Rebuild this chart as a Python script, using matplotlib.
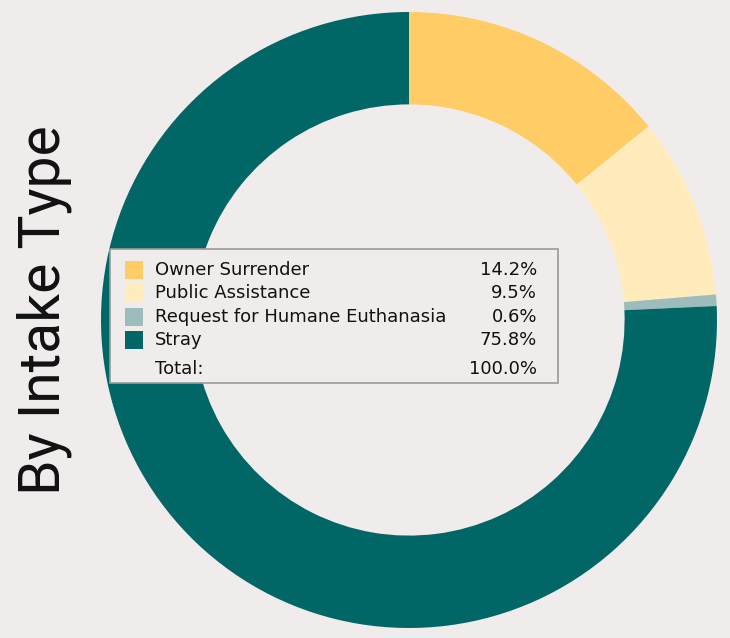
import matplotlib
matplotlib.use("Agg")
import matplotlib.pyplot as plt
from matplotlib.patches import Rectangle

categories = ["Owner Surrender", "Public Assistance",
              "Request for Humane Euthanasia", "Stray"]
percents = [14.2, 9.5, 0.6, 75.8]
total_label = "Total:"
total_pct = 100.0
colors = ["#FFCC66", "#FFEBBB", "#9DBDBD", "#006666"]
title = "By Intake Type"
bg = "#F0ECEC"

W, H = 730, 638
fig = plt.figure(figsize=(W / 100, H / 100), dpi=100, facecolor=bg)

# donut, centre ~ (409, 320) px, radius ~308 px
cx, cy, r = 409, 320, 308
ax = fig.add_axes([(cx - r) / W, (H - cy - r) / H, 2 * r / W, 2 * r / H])
ax.set_facecolor(bg)
ax.pie(percents, colors=colors, startangle=90, counterclock=False,
       radius=1, wedgeprops=dict(width=0.30, linewidth=0))
ax.set_xlim(-1, 1)
ax.set_ylim(-1, 1)
ax.set_aspect("equal")
ax.axis("off")

fig.text(44 / W, 1 - 310 / H, title, rotation=90, ha="center", va="center",
         fontsize=41, family="Roboto", fontweight="normal", color="#111111")

# legend box drawn in pixel space
def fx(x):
    return x / W

def fy(y):
    return 1 - y / H

fs = 13
fig.patches.append(Rectangle((fx(110), fy(383)), fx(558) - fx(110), fy(249) - fy(383),
                             transform=fig.transFigure, facecolor=bg,
                             edgecolor="#9A9A9A", linewidth=1.2, zorder=5))
rows = [270, 293, 317, 340]
for y, name, p, c in zip(rows, categories, percents, colors):
    fig.patches.append(Rectangle((fx(125), fy(y + 9)), fx(18), 18 / H,
                                 transform=fig.transFigure, facecolor=c,
                                 edgecolor="none", zorder=6))
    fig.text(fx(155), fy(y), name, ha="left", va="center", fontsize=fs,
             color="#111111", zorder=7)
    fig.text(fx(537), fy(y), f"{p:.1f}%", ha="right", va="center",
             fontsize=fs, color="#111111", zorder=7)
fig.text(fx(155), fy(369), total_label, ha="left", va="center", fontsize=fs,
         color="#111111", zorder=7)
fig.text(fx(537), fy(369), f"{total_pct:.1f}%", ha="right", va="center",
         fontsize=fs, color="#111111", zorder=7)

fig.savefig("out.png", dpi=100, facecolor=bg)
